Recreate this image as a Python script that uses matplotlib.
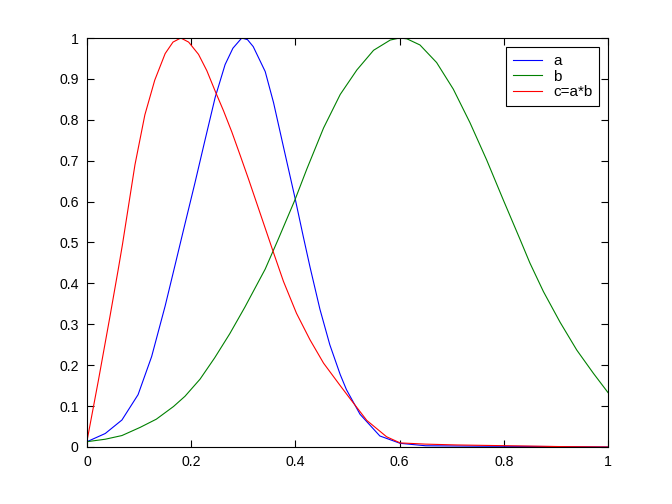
import matplotlib
matplotlib.use("Agg")
import matplotlib.pyplot as plt
import matplotlib.ticker as ticker

# curve a (blue)
a_x = [0, 0.035, 0.067, 0.098, 0.124, 0.150, 0.169, 0.186, 0.207, 0.226, 0.246,
       0.265, 0.28, 0.297, 0.308, 0.319, 0.342, 0.358, 0.377, 0.399, 0.415, 0.428,
       0.447, 0.466, 0.486, 0.498, 0.524, 0.562, 0.601, 0.65, 0.75, 0.91, 1.0]
a_y = [0.013, 0.033, 0.066, 0.128, 0.221, 0.345, 0.445, 0.535, 0.645, 0.748, 0.855,
       0.935, 0.975, 1.0, 0.996, 0.979, 0.918, 0.842, 0.734, 0.610, 0.515, 0.440,
       0.337, 0.250, 0.177, 0.140, 0.080, 0.027, 0.009, 0.003, 0.002, 0.001, 0.0]

# curve b (green)
b_x = [0, 0.035, 0.067, 0.102, 0.133, 0.166, 0.188, 0.217, 0.245, 0.274, 0.303,
       0.342, 0.367, 0.399, 0.422, 0.454, 0.486, 0.518, 0.550, 0.582, 0.6, 0.614,
       0.639, 0.671, 0.703, 0.735, 0.767, 0.799, 0.831, 0.850, 0.876, 0.908, 0.940,
       0.972, 1.0]
b_y = [0.013, 0.019, 0.028, 0.048, 0.068, 0.099, 0.124, 0.166, 0.218, 0.277, 0.342,
       0.435, 0.508, 0.604, 0.680, 0.780, 0.862, 0.922, 0.970, 0.995, 1.0, 0.998,
       0.983, 0.940, 0.875, 0.793, 0.702, 0.604, 0.508, 0.450, 0.380, 0.305, 0.237,
       0.180, 0.133]

# curve c (red)
c_x = [0, 0.022, 0.044, 0.060, 0.068, 0.092, 0.111, 0.130, 0.150, 0.165, 0.18,
       0.195, 0.214, 0.230, 0.246, 0.262, 0.278, 0.294, 0.310, 0.342, 0.358, 0.377,
       0.402, 0.428, 0.454, 0.486, 0.505, 0.537, 0.575, 0.601, 0.65, 0.71, 0.81,
       0.91, 1.0]
c_y = [0.015, 0.164, 0.319, 0.435, 0.495, 0.690, 0.812, 0.897, 0.962, 0.990, 1.0,
       0.990, 0.960, 0.920, 0.870, 0.822, 0.770, 0.713, 0.655, 0.535, 0.475, 0.405,
       0.327, 0.262, 0.205, 0.150, 0.118, 0.065, 0.025, 0.010, 0.007, 0.005, 0.003,
       0.001, 0.0]

labels = ["a", "b", "c=a*b"]
x_ticks = [0, 0.2, 0.4, 0.6, 0.8, 1]
y_ticks = [0, 0.1, 0.2, 0.3, 0.4, 0.5, 0.6, 0.7, 0.8, 0.9, 1]

plt.rcParams["font.family"] = ["Liberation Sans", "DejaVu Sans"]

fig = plt.figure(figsize=(6.72, 5.04), dpi=100)
ax = fig.add_axes([0.1295, 0.1131, 0.7753, 0.8115])

ax.plot(a_x, a_y, color=(0, 0, 1), lw=0.8, label=labels[0])
ax.plot(b_x, b_y, color=(0, 0.5, 0), lw=0.8, label=labels[1])
ax.plot(c_x, c_y, color=(1, 0, 0), lw=0.8, label=labels[2])

ax.set_xlim(0, 1)
ax.set_ylim(0, 1)
ax.set_xticks(x_ticks)
ax.set_yticks(y_ticks)
fmt = ticker.FuncFormatter(lambda v, p: f"{v:g}")
ax.xaxis.set_major_formatter(fmt)
ax.yaxis.set_major_formatter(fmt)
ax.tick_params(direction="in", length=5, width=0.8, top=True, right=True,
               labelsize=10.2, pad=6)
for s in ax.spines.values():
    s.set_linewidth(0.8)

leg = ax.legend(loc="upper right", bbox_to_anchor=(0.983, 0.977),
                borderaxespad=0, fancybox=False, edgecolor="black",
                framealpha=1, fontsize=11, handlelength=1.9,
                handletextpad=0.7, labelspacing=0.1, borderpad=0.45)
leg.get_frame().set_linewidth(0.8)

fig.savefig("out.png", dpi=100)
